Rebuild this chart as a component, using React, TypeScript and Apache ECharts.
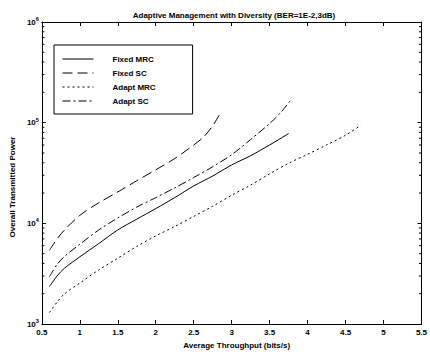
import React, { useEffect, useRef } from "react";
import * as echarts from "echarts";

const title = "Adaptive Management with Diversity (BER=1E-2,3dB)";
const xName = "Average Throughput (bits/s)";
const yName = "Overall Transmitted Power";

const seriesNames = ["Fixed MRC", "Fixed SC", "Adapt MRC", "Adapt SC"];

const fixedMrcX = [0.6, 0.7, 0.8, 0.9, 1.0, 1.25, 1.5, 1.75, 2.0, 2.25, 2.5, 2.75, 3.0, 3.25, 3.5, 3.75];
const fixedMrcY = [2350, 3000, 3600, 4100, 4650, 6300, 8600, 11000, 14000, 18000, 23500, 29500, 38000, 47000, 60000, 78000];

const fixedScX = [0.6, 0.7, 0.8, 1.0, 1.25, 1.5, 1.75, 2.0, 2.25, 2.5, 2.63, 2.75, 2.85];
const fixedScY = [5400, 7000, 8600, 12000, 16000, 20500, 26500, 34000, 44000, 60000, 72000, 93000, 124000];

const adaptMrcX = [0.6, 0.7, 0.8, 1.0, 1.25, 1.5, 1.75, 2.0, 2.25, 2.5, 2.75, 3.0, 3.25, 3.5, 3.75, 4.0, 4.25, 4.5, 4.7];
const adaptMrcY = [1300, 1650, 2000, 2550, 3450, 4500, 5900, 7500, 9300, 11700, 14800, 19000, 24000, 31000, 39500, 48500, 60000, 75000, 94000];

const adaptScX = [0.6, 0.7, 0.8, 1.0, 1.25, 1.5, 1.75, 2.0, 2.25, 2.5, 2.75, 3.0, 3.25, 3.5, 3.65, 3.77];
const adaptScY = [2950, 3900, 4700, 6200, 8600, 11300, 14500, 18000, 22500, 28500, 36500, 48000, 68000, 98000, 127000, 165000];

const minorTickValues = [
  2000, 3000, 4000, 5000, 6000, 7000, 8000, 9000,
  20000, 30000, 40000, 50000, 60000, 70000, 80000, 90000,
  200000, 300000, 400000, 500000, 600000, 700000, 800000, 900000,
];

const FONT = "Liberation Sans, Arial, Helvetica, sans-serif";

function pairs(xs: number[], ys: number[]) {
  return xs.map((x, i) => [x, ys[i]]);
}

export default function App() {
  const ref = useRef<HTMLDivElement>(null);
  useEffect(() => {
    if (!ref.current) return;
    const chart = echarts.init(ref.current, undefined, { renderer: "svg" });
    const lineBase = {
      type: "line",
      symbol: "none",
      smooth: 0.3,
      xAxisIndex: 0,
      yAxisIndex: 0,
      itemStyle: { color: "#000" },
    };
    const tickCommon = { show: true, inside: true, length: 4, lineStyle: { color: "#000", width: 1 } };
    const axisLine = { show: true, lineStyle: { color: "#000", width: 1 } };
    chart.setOption({
      animation: false,
      backgroundColor: "#fff",
      title: {
        text: title,
        left: 229,
        top: 6,
        textAlign: "center",
        textStyle: { fontFamily: FONT, fontSize: 8, fontWeight: "bold", color: "#000" },
      },
      grid: { left: 34, right: 6, top: 22, bottom: 26, containLabel: false },
      legend: {
        data: seriesNames,
        orient: "vertical",
        left: 54,
        top: 45,
        itemWidth: 31,
        itemHeight: 8,
        itemGap: 6,
        padding: [10, 37, 9, 8],
        borderColor: "#000",
        borderWidth: 1,
        borderRadius: 0,
        backgroundColor: "#fff",
        itemStyle: { opacity: 0 },
        lineStyle: { width: 1, color: "#000" },
        textStyle: { fontFamily: FONT, fontSize: 8, fontWeight: "bold", color: "#000", padding: [0, 0, 0, 14], lineHeight: 8 },
      },
      xAxis: [
        {
          type: "value",
          min: 0.5,
          max: 5.5,
          interval: 0.5,
          position: "bottom",
          axisLine,
          axisTick: tickCommon,
          splitLine: { show: false },
          axisLabel: {
            fontFamily: FONT,
            fontSize: 8,
            fontWeight: "bold",
            color: "#000",
            margin: 4,
            formatter: (v: number) => String(v),
          },
          name: xName,
          nameLocation: "middle",
          nameGap: 17,
          nameTextStyle: { fontFamily: FONT, fontSize: 8, fontWeight: "bold", color: "#000", padding: [0, 0, 0, 10] },
        },
        {
          type: "value",
          min: 0.5,
          max: 5.5,
          interval: 0.5,
          position: "top",
          axisLine,
          axisTick: tickCommon,
          splitLine: { show: false },
          axisLabel: { show: false },
        },
      ],
      yAxis: [
        {
          type: "log",
          logBase: 10,
          min: 1000,
          max: 1000000,
          position: "left",
          axisLine,
          axisTick: tickCommon,
          splitLine: { show: false },
          axisLabel: {
            margin: 3,
            formatter: (v: number) => `{b|10}{e|${Math.round(Math.log10(v))}}`,
            rich: {
              b: { fontFamily: FONT, fontSize: 8, fontWeight: "bold", color: "#000" },
              e: { fontFamily: FONT, fontSize: 5.5, fontWeight: "bold", color: "#000", padding: [0, 0, 6, 0] },
            },
          },
          name: yName,
          nameLocation: "middle",
          nameGap: 20,
          nameTextStyle: { fontFamily: FONT, fontSize: 8, fontWeight: "bold", color: "#000", padding: [0, 28, 0, 0] },
        },
        {
          type: "log",
          logBase: 10,
          min: 1000,
          max: 1000000,
          position: "right",
          axisLine,
          axisTick: tickCommon,
          splitLine: { show: false },
          axisLabel: { show: false },
        },
      ],
      series: [
        { ...lineBase, name: seriesNames[0], data: pairs(fixedMrcX, fixedMrcY), lineStyle: { color: "#000", width: 1, type: "solid" } },
        { ...lineBase, name: seriesNames[1], data: pairs(fixedScX, fixedScY), lineStyle: { color: "#000", width: 1, type: [10, 5] } },
        { ...lineBase, name: seriesNames[2], data: pairs(adaptMrcX, adaptMrcY), lineStyle: { color: "#000", width: 1, type: [2, 3] } },
        { ...lineBase, name: seriesNames[3], data: pairs(adaptScX, adaptScY), lineStyle: { color: "#000", width: 1, type: [8, 3, 2, 3] } },
        {
          type: "custom",
          name: "minorTicks",
          xAxisIndex: 0,
          yAxisIndex: 0,
          silent: true,
          data: minorTickValues.map((v) => [0.5, v]),
          encode: { x: 0, y: 1 },
          renderItem: (params: any, api: any) => {
            const v = api.value(1);
            const l = api.coord([0.5, v]);
            const r = api.coord([5.5, v]);
            const style = { stroke: "#000", lineWidth: 1 };
            return {
              type: "group",
              children: [
                { type: "line", shape: { x1: l[0], y1: l[1], x2: l[0] + 2.5, y2: l[1] }, style },
                { type: "line", shape: { x1: r[0], y1: r[1], x2: r[0] - 2.5, y2: r[1] }, style },
              ],
            };
          },
        },
      ],
    });
    return () => chart.dispose();
  }, []);
  return <div ref={ref} style={{ width: 430, height: 354, position: "absolute", left: 0, top: 0 }} />;
}
